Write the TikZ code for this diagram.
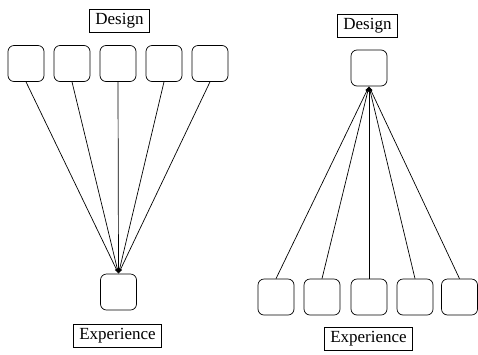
\documentclass[tikz,border=0pt]{standalone}
\usepackage{fontspec}
\setmainfont{Liberation Serif}
\usepackage{tikz}
\usetikzlibrary{arrows.meta}

\tikzset{
  sq/.style={draw, rounded corners=6pt, minimum width=36pt, minimum height=36pt, inner sep=0pt},
  tag/.style={draw, font=\fontsize{17}{20}\selectfont, inner xsep=6pt, inner ysep=4pt},
  fan/.style={-{Latex[length=5pt,width=3.5pt]}}
}

\begin{document}
\begin{tikzpicture}[x=1pt, y=-1pt, line width=0.7pt]
      \useasboundingbox (0,0) rectangle (478,354);
      % left: many designs, one experience
      \node[tag] (dl) at (119.5,20.5) {Design};
      \foreach \i/\x in {1/26, 2/72, 3/118, 4/164, 5/210}
        \node[sq] (t\i) at (\x,63.5) {};
      \node[sq] (bl) at (118.5,292) {};
      \node[tag] (el) at (117.5,335.5) {Experience};
      \foreach \i in {1,...,5}
        \draw[fan] (t\i.south) -- (bl.north);
      % right: one design, many experiences
      \node[tag] (dr) at (367.5,25.5) {Design};
      \node[sq] (tr) at (369,68) {};
      \foreach \i/\x in {1/276, 2/322, 3/369, 4/415, 5/459.5}
        \node[sq] (b\i) at (\x,297) {};
      \node[tag] (er) at (368.5,338.5) {Experience};
      \foreach \i in {1,...,5}
        \draw[fan] (b\i.north) -- (tr.south);
    \end{tikzpicture}
\end{document}
